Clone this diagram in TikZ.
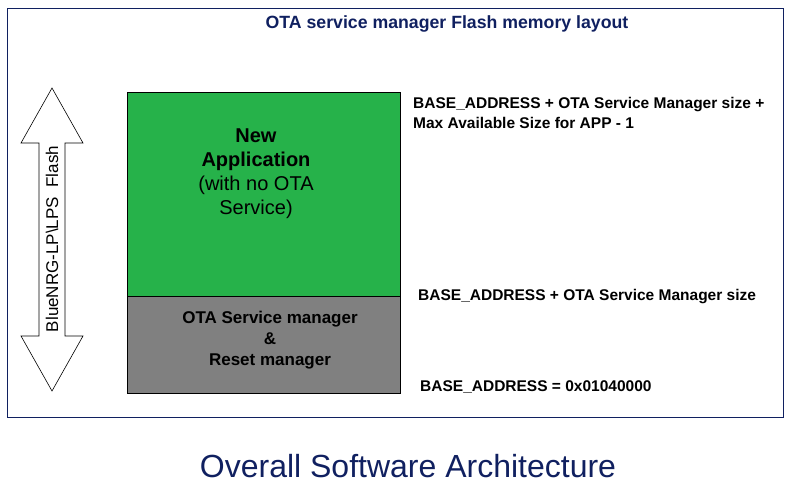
\documentclass[tikz,border=0pt]{standalone}
\usepackage{fontspec}
\setmainfont{Liberation Sans}
\definecolor{navy}{RGB}{16,32,96}
\definecolor{appgreen}{RGB}{38,178,74}
\definecolor{mgrgray}{RGB}{128,128,128}
\begin{document}
\begin{tikzpicture}[x=1pt,y=-1pt,
  lbl/.style={font=\bfseries\fontsize{15.5}{20}\selectfont,anchor=west,align=left,inner sep=0}]
\useasboundingbox (0,0) rectangle (795,486);
\draw[navy,line width=0.8pt] (7,8) rectangle (783,417);
\node[font=\bfseries\fontsize{17.7}{20}\selectfont,text=navy] (title) at (447,24) {OTA service manager Flash memory layout};
\node[draw=black,fill=appgreen,minimum width=273pt,minimum height=204pt,anchor=north west,inner sep=0] (app) at (127,92) {};
\node[draw=black,fill=mgrgray,minimum width=273pt,minimum height=97pt,anchor=north west,inner sep=0] (mgr) at (127,296) {};
\node[align=center,font=\fontsize{20}{24}\selectfont] (apptxt) at (256,174) {\textbf{New}\\\textbf{Application}\\(with no OTA\\Service)};
\node[align=center,font=\bfseries\fontsize{17}{21}\selectfont] (mgrtxt) at (270,340) {OTA Service manager\\\&\\Reset manager};
\draw[black,fill=white,line width=0.6pt] (52,88) -- (83,143) -- (65,143) -- (65,336) -- (83,336) -- (52,391) -- (21,336) -- (39,336) -- (39,143) -- (21,143) -- cycle;
\node[rotate=90,font=\fontsize{17}{20}\selectfont] (flash) at (52,239) {BlueNRG-LP\textbackslash LPS\ \ Flash};
\node[lbl] (l1) at (413,113) {BASE\_ADDRESS + OTA Service Manager size +\\Max Available Size for APP - 1};
\node[lbl] (l2) at (418,297) {BASE\_ADDRESS + OTA Service Manager size};
\node[lbl] (l3) at (420,387) {BASE\_ADDRESS = 0x01040000};
\node[font=\fontsize{32}{36}\selectfont,text=navy] (cap) at (408,466) {Overall Software Architecture};
\end{tikzpicture}
\end{document}
